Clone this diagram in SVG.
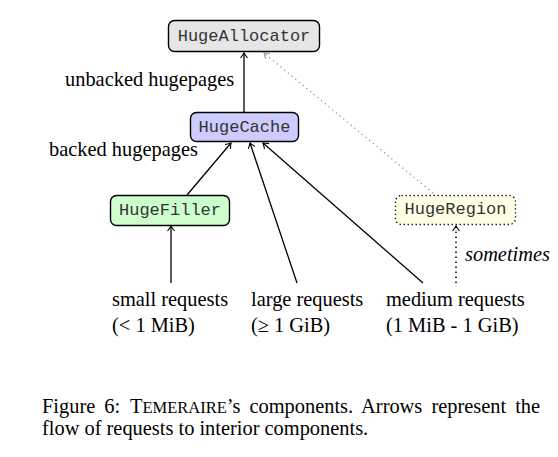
<svg xmlns="http://www.w3.org/2000/svg" width="558" height="457" viewBox="0 0 558 457">
<style>
.box{stroke:#000;stroke-width:1.4}
.mono{font-family:"Liberation Mono",monospace;font-size:17px;fill:#333}
.serif{font-family:"Liberation Serif",serif;font-size:20.4px;fill:#000}
.conn{fill:none;stroke:#000;stroke-width:1.3}
</style>
<defs>
<marker id="ah" viewBox="-6 -5 8 10" refX="0" refY="0" markerWidth="8" markerHeight="10" markerUnits="userSpaceOnUse" orient="auto">
<path d="M-5,-3.5 Q-1.5,-0.8 0,0 Q-1.5,0.8 -5,3.5" fill="none" stroke="#000" stroke-width="1.1"/>
</marker>
<marker id="ahg" viewBox="-6 -5 8 10" refX="0" refY="0" markerWidth="8" markerHeight="10" markerUnits="userSpaceOnUse" orient="auto">
<path d="M-5,-3.5 Q-1.5,-0.8 0,0 Q-1.5,0.8 -5,3.5" fill="none" stroke="#999" stroke-width="1.1"/>
</marker>
</defs>
<rect width="558" height="457" fill="#fff"/>
<g id="connectors">
<line class="conn" x1="244" y1="112" x2="244" y2="53" marker-end="url(#ah)"/>
<line x1="433" y1="193" x2="264" y2="53" stroke="#999" stroke-width="1.3" stroke-dasharray="1.3 3.5" marker-end="url(#ahg)"/>
<line class="conn" x1="187" y1="195" x2="231" y2="143" marker-end="url(#ah)"/>
<line class="conn" x1="297" y1="283" x2="250" y2="143" marker-end="url(#ah)"/>
<line class="conn" x1="423" y1="283" x2="263" y2="143" marker-end="url(#ah)"/>
<line class="conn" x1="171" y1="283" x2="171" y2="226" marker-end="url(#ah)"/>
<line x1="456" y1="283" x2="456" y2="226" stroke="#000" stroke-width="1.5" stroke-dasharray="1.5 3.5" marker-end="url(#ah)"/>
</g>
<g id="HugeAllocator">
<rect class="box" x="168.5" y="20.5" width="151" height="31" rx="6" fill="#e6e6e6"/>
<text class="mono" x="244" y="41" text-anchor="middle">HugeAllocator</text>
</g>
<g id="HugeCache">
<rect class="box" x="190.5" y="112.5" width="108" height="29" rx="6" fill="#ccccff"/>
<text class="mono" x="244.5" y="132" text-anchor="middle">HugeCache</text>
</g>
<g id="HugeFiller">
<rect class="box" x="110.5" y="195.5" width="119" height="30" rx="6" fill="#ccffcc"/>
<text class="mono" x="170" y="215" text-anchor="middle">HugeFiller</text>
</g>
<g id="HugeRegion">
<rect x="395.5" y="195.5" width="120" height="29" rx="6" fill="#ffffe6" stroke="#000" stroke-width="1.3" stroke-dasharray="1.3 2.7"/>
<text class="mono" x="455.5" y="214" text-anchor="middle">HugeRegion</text>
</g>
<g id="labels">
<text class="serif" x="65" y="86">unbacked hugepages</text>
<text class="serif" x="49" y="156">backed hugepages</text>
<text class="serif" x="465" y="261" font-style="italic">sometimes</text>
<text class="serif" x="112" y="306">small requests</text>
<text class="serif" x="112" y="332">(&lt; 1 MiB)</text>
<text class="serif" x="251" y="306">large requests</text>
<text class="serif" x="251" y="332">(≥ 1 GiB)</text>
<text class="serif" x="386" y="306">medium requests</text>
<text class="serif" x="386" y="332">(1 MiB - 1 GiB)</text>
</g>
<g id="caption">
<text class="serif" x="42" y="413" word-spacing="4">Figure 6: <tspan x="130">T</tspan><tspan font-size="16.5">EMERAIRE</tspan>’s components. Arrows represent the</text>
<text class="serif" x="42" y="435">flow of requests to interior components.</text>
</g>
</svg>
